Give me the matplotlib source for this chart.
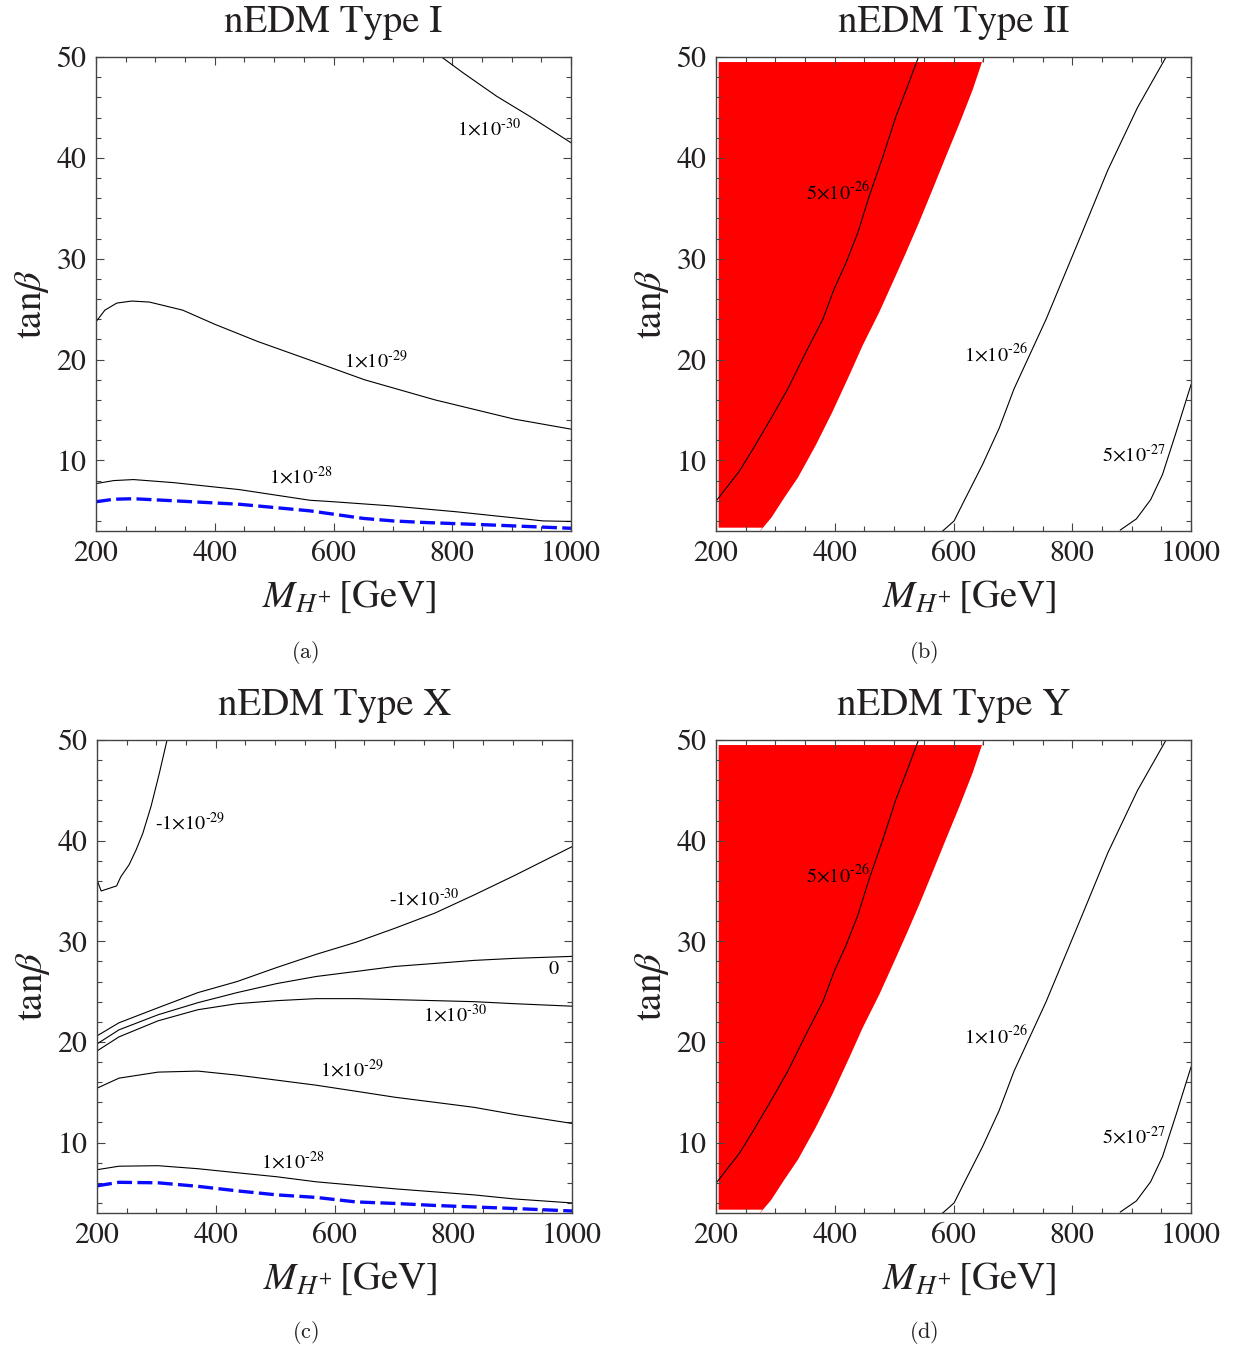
import numpy as np
import matplotlib
matplotlib.use('Agg')
import matplotlib.pyplot as plt
from matplotlib.ticker import MultipleLocator

plt.rcParams['font.family'] = ['STIXGeneral', 'DejaVu Serif']
plt.rcParams['mathtext.fontset'] = 'stix'

TXT = '#231f20'
FRAME = '#444444'

# ---- panel (a) : Type I ----
a_m30 = [782, 819, 875, 931, 1000]
a_t30 = [50, 48.4, 46.1, 44.1, 41.5]
a_m29 = [200, 215, 235, 260, 290, 346, 400, 472, 572, 652, 771, 904, 1000]
a_t29 = [23.75, 24.9, 25.6, 25.8, 25.7, 24.9, 23.5, 21.8, 19.7, 18.0, 16.0, 14.1, 13.1]
a_m28 = [200, 230, 263, 330, 442, 560, 600, 695, 808, 953, 1000]
a_t28 = [7.7, 8.0, 8.1, 7.8, 7.1, 6.05, 5.9, 5.5, 4.9, 4.0, 3.95]
a_mb = [200, 230, 263, 330, 442, 560, 650, 700, 751, 864, 1000]
a_tb = [5.9, 6.15, 6.2, 6.0, 5.65, 5.0, 4.25, 4.0, 3.85, 3.6, 3.27]

# ---- panel (c) : Type X ----
c_mn29 = [200, 207, 233, 240, 254, 266, 277, 291, 305, 318]
c_tn29 = [36.1, 35.0, 35.5, 36.4, 37.6, 39.1, 40.7, 43.4, 46.7, 50]
c_m = [200, 237, 303, 370, 436, 503, 569, 636, 702, 769, 835, 902, 1000]
c_tn30 = [20.6, 21.9, 23.4, 24.9, 26.0, 27.4, 28.7, 29.9, 31.3, 32.8, 34.6, 36.5, 39.4]
c_t0 = [19.8, 21.2, 22.7, 23.9, 24.9, 25.8, 26.5, 27.0, 27.5, 27.8, 28.1, 28.3, 28.5]
c_t30 = [19.1, 20.5, 22.1, 23.2, 23.8, 24.1, 24.3, 24.3, 24.2, 24.1, 24.0, 23.8, 23.55]
c_t29 = [15.4, 16.4, 17.0, 17.1, 16.7, 16.2, 15.7, 15.1, 14.5, 14.0, 13.5, 12.8, 11.9]
c_t28 = [7.3, 7.65, 7.7, 7.4, 7.0, 6.6, 6.1, 5.75, 5.4, 5.1, 4.8, 4.4, 4.0]
c_tb = [5.7, 6.05, 6.0, 5.65, 5.2, 4.8, 4.55, 4.1, 3.95, 3.75, 3.6, 3.45, 3.2]

# ---- panels (b),(d) : Type II / Type Y (same picture) ----
red_edge_m = [652, 632, 610, 587, 565, 542, 520, 498, 475, 447, 425, 396, 368,
              338, 315, 293, 270]
red_edge_t = [50.2, 46.7, 43.4, 40.1, 36.9, 33.6, 30.6, 27.7, 24.7, 21.4, 18.5,
              14.8, 11.5, 8.3, 6.3, 4.3, 2.7]
red_left, red_bot, red_top = 204.5, 3.33, 49.5
b_m526 = [200, 239, 262, 293, 321, 352, 380, 399, 419, 439, 458, 481, 503, 522, 541]
b_t526 = [5.96, 8.9, 11.1, 14.2, 17.1, 20.8, 24.0, 27.0, 29.6, 32.6, 36.2, 40.1,
          44.1, 47.0, 50]
b_m126 = [576, 601, 618, 649, 677, 702, 756, 816, 860, 910, 958]
b_t126 = [2.7, 4.0, 6.0, 9.6, 13.2, 17.1, 24.0, 32.5, 38.8, 45.0, 50]
b_m527 = [881, 908, 932, 952, 975, 1000]
b_t527 = [3.1, 4.2, 6.1, 8.6, 12.8, 17.5]

W, H = 1239, 1351
fig = plt.figure(figsize=(W / 100, H / 100), dpi=100)


def make_ax(l, r, t, b):
    return fig.add_axes([l / W, 1 - b / H, (r - l) / W, (b - t) / H])


def frame(ax, title, cap, capx, capy, pink=False):
    ax.set_xlim(200, 1000)
    ax.set_ylim(3, 50)
    ax.xaxis.set_major_locator(MultipleLocator(200))
    ax.xaxis.set_minor_locator(MultipleLocator(50))
    ax.yaxis.set_major_locator(MultipleLocator(10))
    ax.yaxis.set_minor_locator(MultipleLocator(2))
    ax.tick_params(which='both', direction='in', top=True, right=True,
                   color=FRAME, width=0.8, labelsize=21.5, labelcolor=TXT)
    ax.tick_params(which='major', length=6, pad=7)
    ax.tick_params(which='minor', length=3.5)
    for s in ax.spines.values():
        s.set_color(FRAME)
        s.set_linewidth(1.0)
    if pink:
        for t in (ax.xaxis.get_major_ticks() + ax.xaxis.get_minor_ticks()
                  + ax.yaxis.get_major_ticks() + ax.yaxis.get_minor_ticks()):
            t.tick2line.set_color('#f5a3a3')
    ax.text(0.5, 1.052, title, transform=ax.transAxes, ha='center',
            va='baseline', fontsize=28, color=TXT)
    ax.text(0.532, -0.160, r'$M_{H^{+}}\,$[GeV]', transform=ax.transAxes,
            ha='center', va='baseline', fontsize=28, color=TXT)
    ax.text(-0.135, 0.479, r'$\mathrm{tan}\beta$', transform=ax.transAxes,
            ha='center', va='center', rotation=90, fontsize=28, color=TXT)
    fig.text(capx / W, 1 - capy / H, r'$\mathrm{(' + cap + ')}$',
             ha='center', va='baseline', fontsize=16, color=TXT,
             math_fontfamily='cm')


def lab(ax, x, y, s):
    ax.text(x, y, s, ha='center', va='center', fontsize=14.5, color='black')


def sci(m, e, neg=False):
    return ('-' if neg else '') + r'$' + m + r'{\times}10^{\text{-}' + e + r'}$'


kw = dict(color='black', lw=0.8)
bkw = dict(color='#0a0aff', lw=2.4, dashes=(4.5, 1.6))

# (a)
ax = make_ax(96, 571, 57, 531)
ax.plot(a_m30, a_t30, **kw)
ax.plot(a_m29, a_t29, **kw)
ax.plot(a_m28, a_t28, **kw)
ax.plot(a_mb, a_tb, **bkw)
lab(ax, 861, 42.9, sci('1', '30'))
lab(ax, 671, 19.9, sci('1', '29'))
lab(ax, 545, 8.4, sci('1', '28'))
frame(ax, 'nEDM Type I', 'a', 305, 658)

# (b) and (d)
for (t, b, title, cap, capy, pink) in [(57, 531, 'nEDM Type II', 'b', 658, True),
                                      (740, 1213, 'nEDM Type Y', 'd', 1338, False)]:
    ax = make_ax(716, 1191, t, b)
    px = [red_left, red_left, 649] + red_edge_m + [278]
    py = [red_bot, red_top, red_top] + red_edge_t + [red_bot]
    ax.fill(px, py, color='#ff0000', lw=0, zorder=1)
    ax.plot(b_m526, b_t526, zorder=2, **kw)
    ax.plot(b_m126, b_t126, zorder=2, **kw)
    ax.plot(b_m527, b_t527, zorder=2, **kw)
    lab(ax, 406, 36.6, sci('5', '26'))
    lab(ax, 671, 20.6, sci('1', '26'))
    lab(ax, 904, 10.6, sci('5', '27'))
    frame(ax, title, cap, 924, capy, pink=pink)

# (c)
ax = make_ax(97, 572, 740, 1213)
ax.plot(c_mn29, c_tn29, **kw)
ax.plot(c_m, c_tn30, **kw)
ax.plot(c_m, c_t0, **kw)
ax.plot(c_m, c_t30, **kw)
ax.plot(c_m, c_t29, **kw)
ax.plot(c_m, c_t28, **kw)
ax.plot(c_m, c_tb, **bkw)
lab(ax, 356, 41.8, sci('1', '29', neg=True))
lab(ax, 752, 34.2, sci('1', '30', neg=True))
lab(ax, 969, 27.2, r'$0$')
lab(ax, 802, 22.7, sci('1', '30'))
lab(ax, 629, 17.3, sci('1', '29'))
lab(ax, 530, 8.1, sci('1', '28'))
frame(ax, 'nEDM Type X', 'c', 305, 1338)

fig.savefig('out.png', dpi=100)
